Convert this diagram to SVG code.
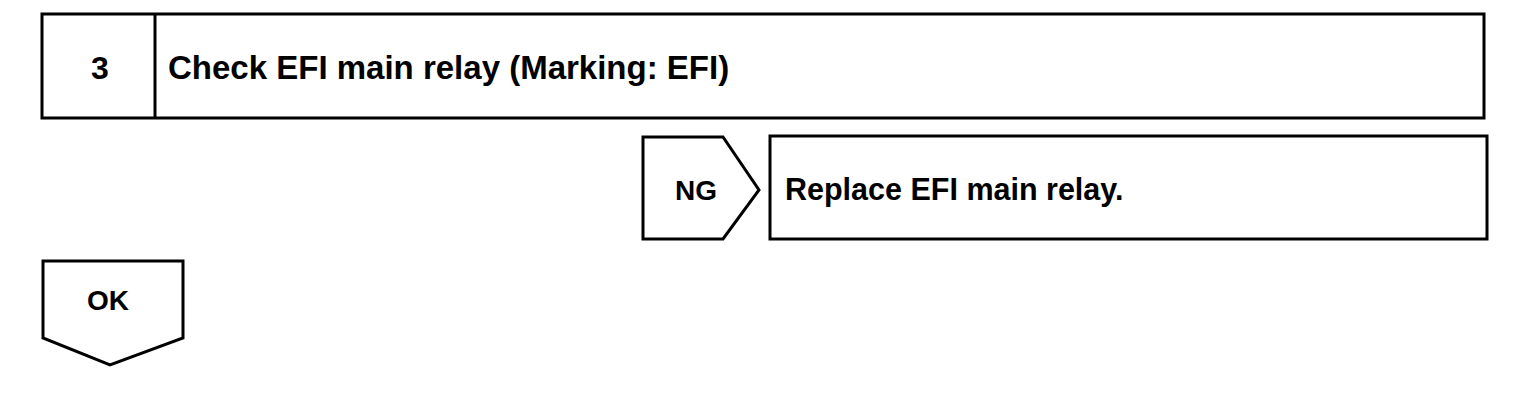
<svg xmlns="http://www.w3.org/2000/svg" width="1536" height="410" viewBox="0 0 1536 410">
<style>
.b{fill:#fff;stroke:#000;stroke-width:3;stroke-linejoin:miter}
.t{font-family:"Liberation Sans",Arial,sans-serif;font-weight:bold;fill:#000}
</style>
<rect width="1536" height="410" fill="#fff"/>
<g id="step3">
<rect class="b" x="42" y="14" width="1442" height="104"/>
<line class="b" x1="155" y1="14" x2="155" y2="118"/>
<text class="t" x="100" y="79" font-size="32" text-anchor="middle">3</text>
<text class="t" x="168" y="79" font-size="33">Check EFI main relay (Marking: EFI)</text>
</g>
<g id="ng">
<polygon class="b" points="643,137 723,137 759,190 723,239 643,239"/>
<text class="t" x="696" y="200" font-size="28" text-anchor="middle">NG</text>
</g>
<g id="replace">
<rect class="b" x="770" y="136" width="717" height="103"/>
<text class="t" x="785" y="200" font-size="30.5">Replace EFI main relay.</text>
</g>
<g id="ok">
<polygon class="b" points="43,261 183,261 183,338 110,365 43,338"/>
<text class="t" x="108" y="310" font-size="28" text-anchor="middle">OK</text>
</g>
<g id="connectors"></g>
</svg>
